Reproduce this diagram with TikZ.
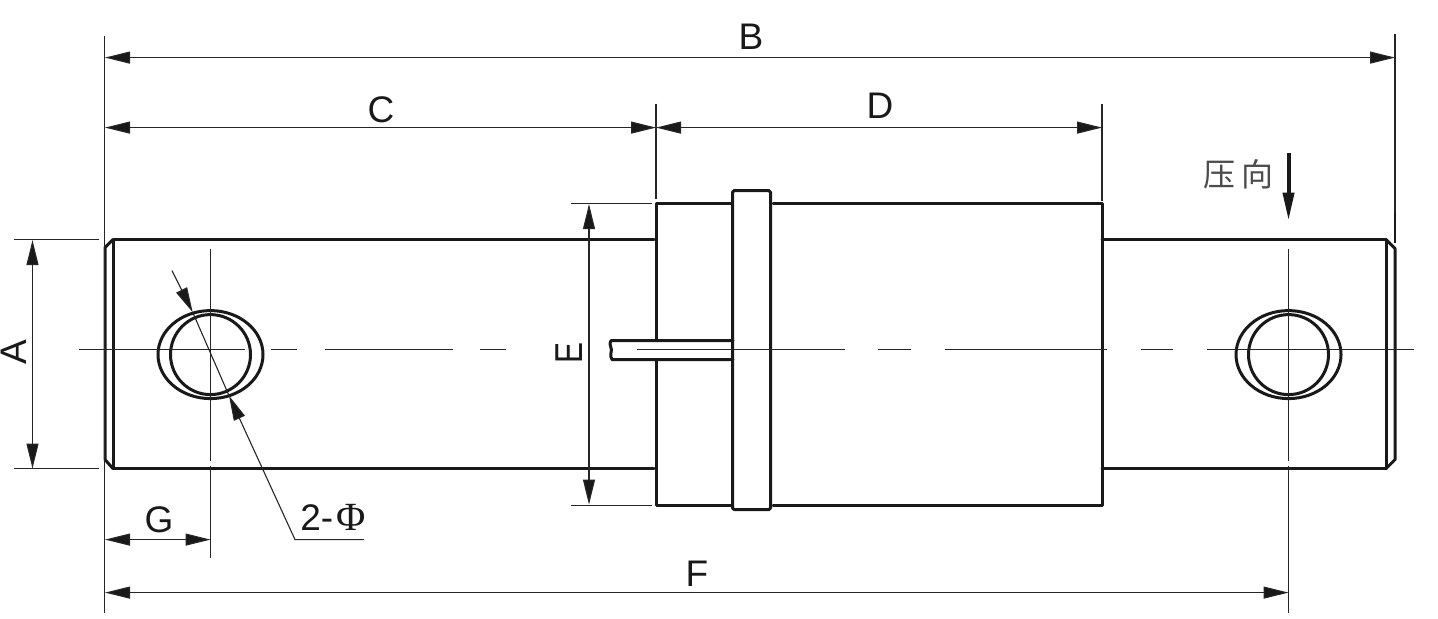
\documentclass[tikz,border=0pt]{standalone}
\usepackage{fontspec}
\setmainfont{Liberation Sans}
\newfontfamily\cjkfont{Noto Sans CJK SC}
\newfontfamily\serifgreek{Liberation Serif}
\usetikzlibrary{arrows.meta}
\tikzset{
  heavy/.style={line width=1.5pt,line cap=round,line join=round,draw=black!90},
  thin line/.style={line width=0.55pt,draw=black!85},
  dim/.style={thin line,{Triangle[length=12.5pt,width=6pt,fill=black!90]}-{Triangle[length=12.5pt,width=6pt,fill=black!90]}},
  label text/.style={font=\fontsize{18.5}{18.5}\selectfont,inner sep=0pt,text=black!90},
}
\begin{document}
\begin{tikzpicture}[x=0.5pt,y=-0.5pt]
\useasboundingbox (0,-0.6) rectangle (1438,618.4);
% coordinates
\coordinate (lt) at (113,239); \coordinate (lb) at (113,468);
\coordinate (rt) at (1386,239); \coordinate (rb) at (1386,468);
\coordinate (holeL) at (210.5,354); \coordinate (holeR) at (1288.5,354);
% shaft
\draw[heavy] (lt) -- (654,239);
\draw[heavy] (lb) -- (654,468);
\draw[heavy] (1102,239) -- (rt);
\draw[heavy] (1102,468) -- (rb);
\draw[heavy] (lt) -- (lb);
\draw[heavy] (rt) -- (rb);
\draw[heavy] (lt) -- (105,247) -- (105,459) -- (lb);
\draw[heavy] (rt) -- (1395,248) -- (1395,459) -- (rb);
% cylinder
\draw[heavy] (656,340) -- (656,203) -- (732.5,203);
\draw[heavy] (656,359) -- (656,504.5) -- (732.5,504.5);
\draw[heavy] (773,203) -- (1102,203) -- (1102,504.5) -- (773,504.5);
\draw[heavy,rounded corners=0.8pt] (732.5,190) rectangle (770.5,509);
% lead
\draw[heavy] (733,340) -- (611,340) .. controls (608,344) and (613,348) .. (611,352) .. controls (610,355) and (611,357) .. (612,359) -- (733,359);
% holes
\draw[heavy] (holeL) ellipse [x radius=52.5,y radius=44];
\draw[heavy] (holeL) circle [radius=40];
\draw[heavy] (holeR) ellipse [x radius=52.5,y radius=44];
\draw[heavy] (holeR) circle [radius=40];
% centre lines
\draw[thin line] (79,349) -- (245,349);
\draw[thin line] (271,349) -- (297,349);
\draw[thin line] (325,349) -- (453,349);
\draw[thin line] (480,349) -- (506,349);
\draw[thin line] (637,349) -- (845,349);
\draw[thin line] (878,349) -- (911,349);
\draw[thin line] (945,349) -- (1107,349);
\draw[thin line] (1141,349) -- (1173,349);
\draw[thin line] (1207,349) -- (1414,349);
\draw[thin line] (210.5,248) -- (210.5,460);
\draw[thin line] (210.5,465) -- (210.5,557);
\draw[thin line] (1288.5,248) -- (1288.5,460);
\draw[thin line] (1288.5,465) -- (1288.5,612);
% extension lines
\draw[thin line] (104.5,35) -- (104.5,612);
\draw[thin line] (1395,33) -- (1395,212);
\draw[line width=1.2pt,draw=black!90] (1395,212) -- (1395,242);
\draw[thin line] (656,103) -- (656,198);
\draw[thin line] (1102,103) -- (1102,200);
\draw[thin line] (14,239) -- (99,239);
\draw[thin line] (14,468) -- (99,468);
\draw[thin line] (571,203) -- (652,203);
\draw[thin line] (571,504.5) -- (652,504.5);
% dimensions
\draw[dim] (105,57) -- (1395,57);
\draw[dim] (105,127) -- (656,127);
\draw[dim] (656,127) -- (1102,127);
\draw[dim] (105,592) -- (1288.5,592);
\draw[dim] (105,539) -- (210.5,539);
\draw[dim] (32.5,239.5) -- (32.5,468);
\draw[dim] (589,203.5) -- (589,504);
% diameter leader
\coordinate (tipA) at (192.7,311.7); \coordinate (tipB) at (229,395);
\draw[thin line,-{Triangle[length=12.5pt,width=6pt,fill=black!90]}] (172,270) -- (tipA);
\draw[thin line] (tipA) -- (tipB);
\draw[thin line,{Triangle[length=12.5pt,width=6pt,fill=black!90]}-] (tipB) -- (295,539) -- (364,539);
% press arrow
\draw[line width=2pt,draw=black!90,-{Triangle[length=14pt,width=5.5pt,fill=black!90]}] (1288.5,152) -- (1288.5,220);
% labels
\node[label text] (labB) at (751,36) {B};
\node[label text] (labC) at (381,109) {C};
\node[label text] (labD) at (880,105) {D};
\node[label text] (labF) at (697,573) {F};
\node[label text] (labG) at (159,519) {G};
\node[label text,rotate=90] (labA) at (14,352) {A};
\node[label text,rotate=90] (labE) at (569.5,352) {\scalebox{0.85}[1.05]{E}};
\node[label text,anchor=base west] (labPhi) at (300,530) {2-\hspace{1.5pt}{\serifgreek\fontsize{20}{20}\selectfont Φ}};
\node[inner sep=0pt,text=black!70] (labPress) at (1238,174) {\cjkfont\fontsize{16}{16}\selectfont 压\hspace{3pt}向};
\end{tikzpicture}
\end{document}
